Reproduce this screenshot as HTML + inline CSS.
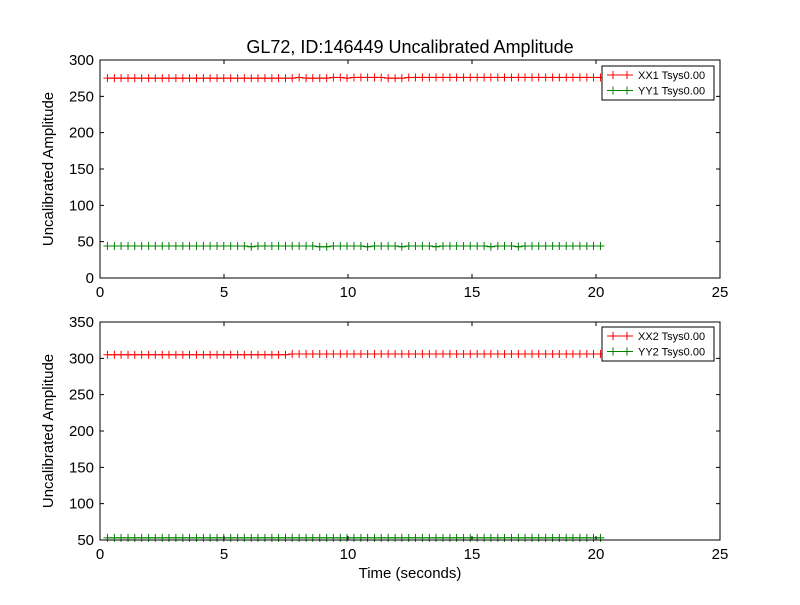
<!DOCTYPE html>
<html><head><meta charset="utf-8"><style>
body{margin:0;background:#fff;width:800px;height:600px;overflow:hidden}
svg{font-family:"Liberation Sans","DejaVu Sans",sans-serif}
</style></head><body>
<svg id="chart" width="800" height="600" xmlns="http://www.w3.org/2000/svg">
<rect width="800" height="600" fill="#fff"/>
<text x="410" y="53" text-anchor="middle" font-size="18">GL72, ID:146449 Uncalibrated Amplitude</text>
<text x="410" y="578" text-anchor="middle" font-size="15">Time (seconds)</text>
</svg>
<script>
const times=[0.30,0.58,0.85,1.13,1.40,1.68,1.96,2.23,2.51,2.78,3.06,3.34,3.61,3.89,4.17,4.44,4.72,4.99,5.27,5.55,5.82,6.10,6.37,6.65,6.93,7.20,7.48,7.75,8.03,8.31,8.58,8.86,9.14,9.41,9.69,9.96,10.24,10.52,10.79,11.07,11.34,11.62,11.90,12.17,12.45,12.72,13.00,13.28,13.55,13.83,14.11,14.38,14.66,14.93,15.21,15.49,15.76,16.04,16.31,16.59,16.87,17.14,17.42,17.69,17.97,18.25,18.52,18.80,19.07,19.35,19.63,19.90,20.18];
const xx1=[275,275,275,275,275,275,275,275,275,275,275,275,275,275,275,275,275,275,275,275,275,275,275,275,275,275,275,275,276,275,275,275,275,276,276,275,276,276,276,276,276,275,275,275,276,276,276,276,276,276,276,276,276,276,276,276,276,276,276,276,276,276,276,276,276,276,276,276,276,276,276,276,276];
const yy1=[44,44,44,44,44,44,44,44,44,44,44,44,44,44,44,44,44,44,44,44,44,43,44,44,44,44,44,44,44,44,44,43,43,44,44,44,44,44,43,44,44,44,44,43,44,44,44,44,43,44,44,44,44,44,44,44,43,44,44,44,43,44,44,44,44,44,44,44,44,44,44,44,44];
const xx2=[305,305,305,305,305,305,305,305,305,305,305,305,305,305,305,305,305,305,305,305,305,305,305,305,305,305,305,306,306,306,306,306,306,306,306,306,306,306,306,306,306,306,306,306,306,306,306,306,306,306,306,306,306,306,306,306,306,306,306,306,306,306,306,306,306,306,306,306,306,306,306,306,306];
const yy2=[53,53,53,53,53,53,53,53,53,53,53,53,53,53,53,53,53,53,53,53,53,53,53,53,53,53,53,53,53,53,53,53,53,53,53,53,53,53,53,53,53,53,53,53,53,53,53,53,53,53,53,53,53,53,53,53,53,53,53,53,53,53,53,53,53,53,53,53,53,53,53,53,53];
const xTicks=[0,5,10,15,20,25];
const yTicksTop=[0,50,100,150,200,250,300];
const yTicksBot=[50,100,150,200,250,300,350];
const NS="http://www.w3.org/2000/svg";
const svg=document.getElementById('chart');
function mk(tag,attrs,parent){const e=document.createElementNS(NS,tag);for(const k in attrs)e.setAttribute(k,attrs[k]);(parent||svg).appendChild(e);return e;}
function panel(id,top,bottom,ymin,ymax,yTicks,series,legendTop){
  const L=100,R=720;
  const xs=v=>L+(v-0)/(25-0)*(R-L);
  const ys=v=>bottom-(v-ymin)/(ymax-ymin)*(bottom-top);
  const g=mk('g',{});
  
  
  series.forEach(s=>{
    const sg=mk('g',{},g);
    
    
    let d='';
    s.vals.forEach((v,i)=>{d+=(i?'L':'M')+xs(times[i]).toFixed(1)+' '+ys(v).toFixed(1);});
    mk('path',{d:d,fill:'none',stroke:s.color,'stroke-width':1},sg);
    s.vals.forEach((v,i)=>{
      const x=xs(times[i]),y=ys(v);
      const p=mk('path',{d:`M${x-4} ${y}H${x+4}M${x} ${y-4}V${y+4}`,stroke:s.color,'stroke-width':1},sg);
      
      
    });
  });
  mk('rect',{x:L,y:top,width:R-L,height:bottom-top,fill:'none',stroke:'#000','stroke-width':1},g);
  xTicks.forEach(t=>{
    const x=xs(t);
    mk('path',{d:`M${x} ${bottom}v-4M${x} ${top}v4`,stroke:'#000'},g);
    const tx=mk('text',{x:x,y:bottom+19,'text-anchor':'middle','font-size':15},g);
    tx.textContent=t;
    
    
  });
  yTicks.forEach(t=>{
    const y=ys(t);
    mk('path',{d:`M${L} ${y}h4M${R} ${y}h-4`,stroke:'#000'},g);
    const tx=mk('text',{x:L-6,y:y+5,'text-anchor':'end','font-size':15},g);
    tx.textContent=t;
    
    
  });
  const yt=mk('text',{x:0,y:0,transform:`translate(53 ${(top+bottom)/2}) rotate(-90)`,'text-anchor':'middle','font-size':15},g);
  yt.textContent='Uncalibrated Amplitude';
  
  
  const lg=mk('g',{},g);
  
  
  mk('rect',{x:602,y:legendTop,width:112,height:34,fill:'#fff',stroke:'#000'},lg);
  series.forEach((s,i)=>{
    const y=legendTop+9+i*15.5;
    const e=mk('g',{},lg);
    
    
    mk('path',{d:`M607 ${y}h26M613 ${y-4}v8M627 ${y-4}v8`,stroke:s.color},e);
    const t=mk('text',{x:638,y:y+4,'font-size':11},e);
    t.textContent=s.label;
  });
}
panel('top-panel',60,278,0,300,yTicksTop,[
  {name:'xx1',vals:xx1,color:'#ff0000',label:'XX1 Tsys0.00'},
  {name:'yy1',vals:yy1,color:'#008000',label:'YY1 Tsys0.00'}],66);
panel('bottom-panel',322,540,50,350,yTicksBot,[
  {name:'xx2',vals:xx2,color:'#ff0000',label:'XX2 Tsys0.00'},
  {name:'yy2',vals:yy2,color:'#008000',label:'YY2 Tsys0.00'}],327);
</script>
</body></html>
